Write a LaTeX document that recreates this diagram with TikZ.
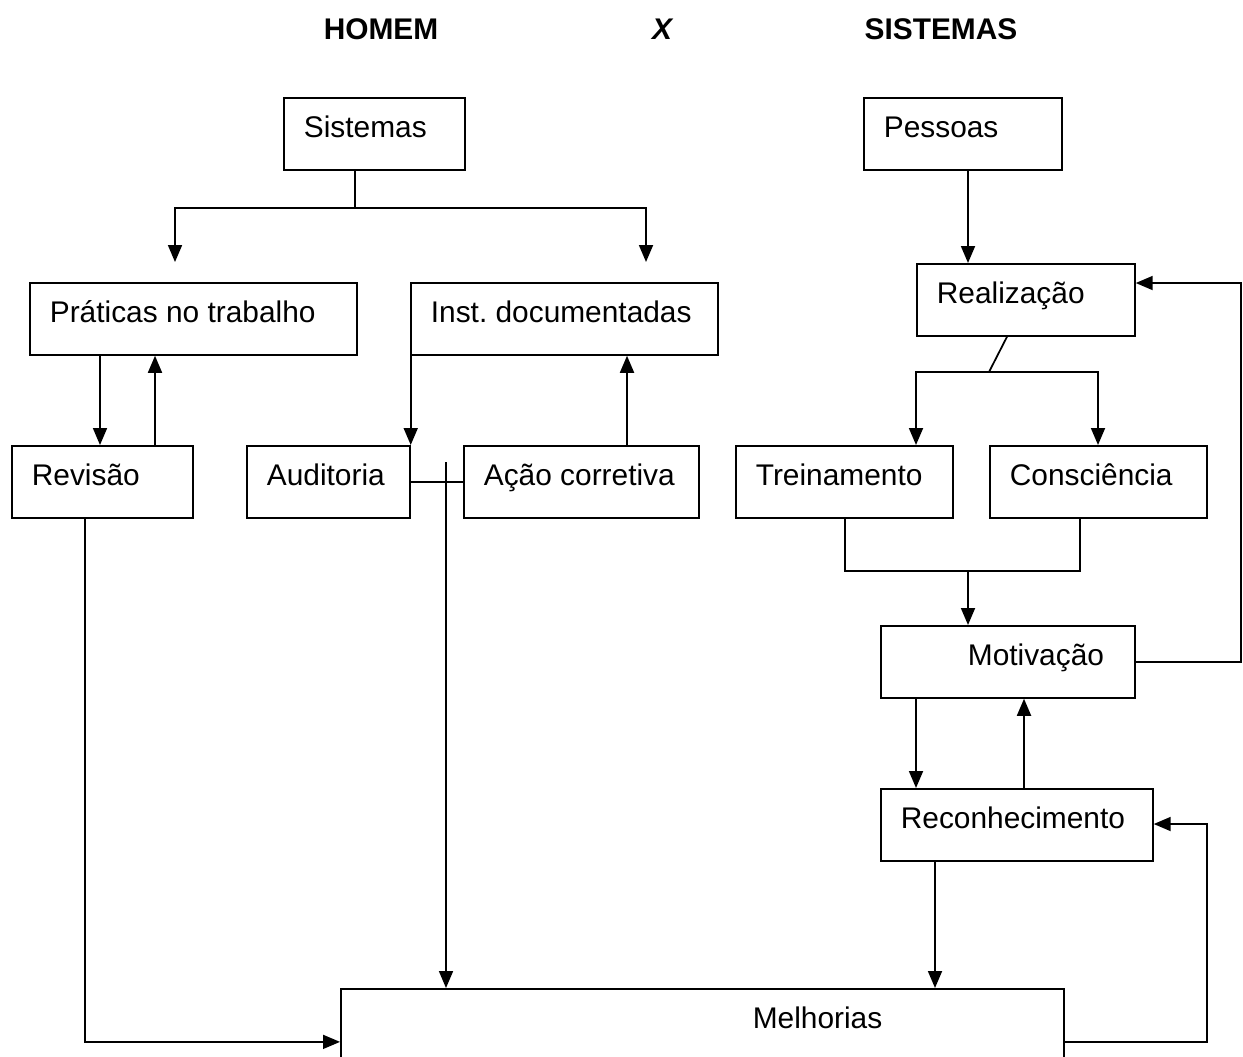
\documentclass[tikz,border=0pt]{standalone}
\usepackage{fontspec}
\setmainfont{Liberation Sans}
\usepackage{tikz}
\usetikzlibrary{positioning,%
  arrows.meta,%
  calc
}

\tikzset{
  caixa/.style={draw, line width=1pt, anchor=north west, align=flush left,
    inner xsep=0.4cm, inner ysep=0pt, text height=0.8cm, text depth=0.64cm},
  seta/.style={line width=1pt, -{Triangle[length=0.34cm,width=0.28cm]}},
  linha/.style={line width=1pt},
  titulo/.style={font=\fontsize{17pt}{20pt}\selectfont\bfseries}
}

\begin{document}
\begin{tikzpicture}[x=0.02cm, y=-0.02cm, font=\fontsize{17pt}{20pt}\selectfont]
            \useasboundingbox (0,0) rectangle (1243,1056);

            % titulo
            \node[titulo] (homem) at (381,29) {HOMEM};
            \node[titulo] (xsinal) at (662,29) {\itshape X};
            \node[titulo] (sistemas) at (941,29) {SISTEMAS};

            % lado esquerdo
            \node[caixa, text width=2.82cm] (sis) at (283,97) {Sistemas};
            \node[caixa, text width=5.74cm] (prat) at (29,282) {\mbox{Práticas no trabalho}};
            \node[caixa, text width=5.34cm] (inst) at (410,282) {\mbox{Inst.\ documentadas}};
            \node[caixa, text width=2.82cm] (rev) at (11,445) {Revisão};
            \node[caixa, text width=2.46cm] (aud) at (246,445) {Auditoria};
            \node[caixa, text width=3.90cm] (acao) at (463,445) {\mbox{Ação corretiva}};

            % lado direito
            \node[caixa, text width=3.16cm] (pes) at (863,97) {Pessoas};
            \node[caixa, text width=3.56cm] (real) at (916,263) {Realização};
            \node[caixa, text width=3.54cm] (trei) at (735,445) {Treinamento};
            \node[caixa, text width=3.54cm] (cons) at (989,445) {Consciência};
            \node[caixa, text width=4.28cm] (mot) at (880,625) {\hspace*{1.34cm}Motivação};
            \node[caixa, text width=4.64cm] (rec) at (880,788) {Reconhecimento};

            \node[caixa, text width=13.66cm, text depth=1.32cm] (mel) at (340,988) {\hspace*{7.84cm}Melhorias};

            % ligacoes
            \coordinate (garfo1) at (355,208);
            \coordinate (pratfim) at (175,262);
            \coordinate (instfim) at (646,262);
            \draw[linha] (sis.south -| garfo1) -- (garfo1);
            \draw[seta] (garfo1) -| (pratfim);
            \draw[seta] (garfo1) -| (instfim);

            \draw[seta] (prat.south -| 100,0) -- (rev.north -| 100,0);
            \draw[seta] (rev.north -| 155,0) -- (prat.south -| 155,0);
            \draw[seta] (inst.south -| aud.north east) -- (aud.north east);
            \draw[seta] (acao.north -| 627,0) -- (inst.south -| 627,0);
            \draw[linha] (aud.east) -- (acao.west);

            \coordinate (audtopo) at (446,462);
            \draw[seta] (audtopo) -- (mel.north -| audtopo);
            \draw[seta] (rev.south -| 85,0) |- (mel.west);

            \draw[seta] (pes.south -| 968,0) -- (real.north -| 968,0);
            \coordinate (garfo2) at (989,372);
            \draw[linha] (real.south -| 1007,0) -- (garfo2);
            \draw[seta] (garfo2) -| (trei.north -| 916,0);
            \draw[seta] (garfo2) -| (cons.north -| 1098,0);

            \coordinate (garfo3) at (968,571);
            \draw[linha] (trei.south -| 845,0) |- (garfo3);
            \draw[linha] (cons.south -| 1080,0) |- (garfo3);
            \draw[seta] (garfo3) -- (mot.north -| garfo3);

            \draw[seta] (mot.east) -- (mot.east -| 1241,0) |- (real.east |- 0,283);
            \draw[seta] (mot.south -| 916,0) -- (rec.north -| 916,0);
            \draw[seta] (rec.north -| 1024,0) -- (mot.south -| 1024,0);
            \draw[seta] (rec.south -| 935,0) -- (mel.north -| 935,0);
            \draw[seta] (mel.east) -- (mel.east -| 1207,0) |- (rec.east |- 0,824);
        \end{tikzpicture}
\end{document}
